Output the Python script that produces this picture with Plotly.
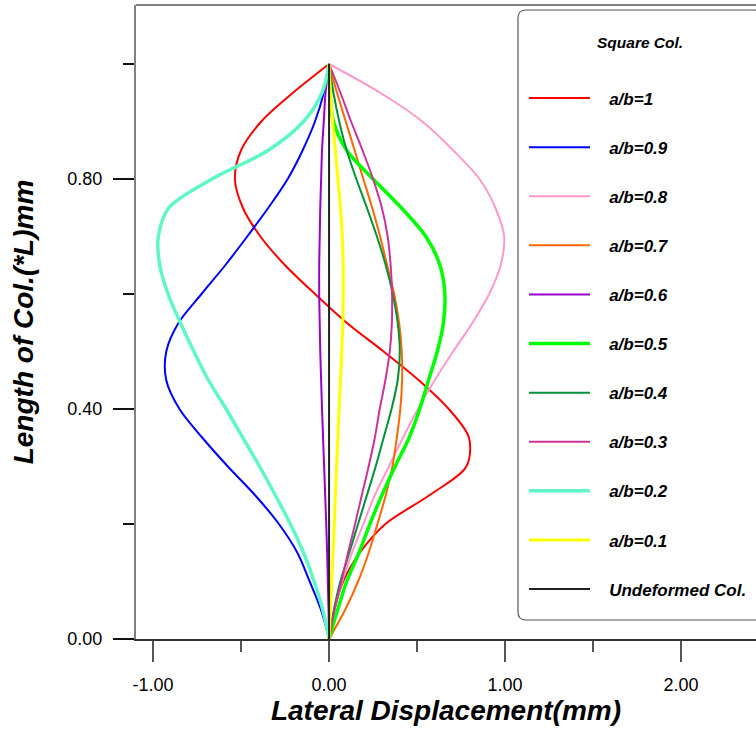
import plotly.graph_objects as go

# Height positions along the column (fraction of L)
y_levels = [0.00, 0.05, 0.10, 0.15, 0.20, 0.25, 0.30, 0.35, 0.40, 0.45, 0.50,
            0.55, 0.60, 0.65, 0.70, 0.75, 0.80, 0.85, 0.90, 0.95, 1.00]

# Lateral displacement (mm) of each series at those heights
ab_1 = [0, 0.03, 0.08, 0.175, 0.32, 0.57, 0.78, 0.795, 0.68, 0.51, 0.31,
        0.10, -0.08, -0.25, -0.39, -0.49, -0.535, -0.50, -0.385, -0.205, 0]
ab_09 = [0, -0.045, -0.11, -0.18, -0.285, -0.42, -0.575, -0.72, -0.85, -0.925, -0.925,
         -0.855, -0.725, -0.59, -0.465, -0.345, -0.235, -0.15, -0.08, -0.03, 0]
ab_08 = [0, 0.03, 0.075, 0.13, 0.195, 0.26, 0.34, 0.42, 0.505, 0.60, 0.705,
         0.815, 0.91, 0.975, 0.995, 0.945, 0.855, 0.705, 0.53, 0.29, 0]
ab_07 = [0, 0.09, 0.165, 0.225, 0.275, 0.322, 0.36, 0.385, 0.405, 0.415, 0.413,
         0.398, 0.37, 0.33, 0.29, 0.245, 0.195, 0.145, 0.095, 0.045, 0]
ab_06 = [0, -0.003, -0.007, -0.011, -0.016, -0.022, -0.028, -0.034, -0.04, -0.045, -0.05,
         -0.053, -0.056, -0.056, -0.053, -0.05, -0.045, -0.04, -0.03, -0.02, 0]
ab_05 = [0, 0.048, 0.10, 0.17, 0.232, 0.30, 0.375, 0.455, 0.515, 0.565, 0.615,
         0.65, 0.658, 0.63, 0.55, 0.41, 0.25, 0.10, 0.025, 0.005, 0]
ab_04 = [0, 0.027, 0.064, 0.115, 0.165, 0.215, 0.265, 0.31, 0.355, 0.39, 0.402,
         0.39, 0.362, 0.322, 0.272, 0.215, 0.155, 0.10, 0.058, 0.025, 0]
ab_03 = [0, 0.03, 0.07, 0.108, 0.148, 0.186, 0.225, 0.26, 0.288, 0.32, 0.345,
         0.357, 0.358, 0.35, 0.333, 0.30, 0.25, 0.19, 0.125, 0.065, 0]
ab_02 = [0, -0.035, -0.085, -0.145, -0.22, -0.305, -0.395, -0.49, -0.585, -0.685, -0.768,
         -0.845, -0.915, -0.962, -0.97, -0.91, -0.665, -0.345, -0.145, -0.04, 0]
ab_01 = [0, 0.007, 0.015, 0.022, 0.03, 0.036, 0.043, 0.05, 0.057, 0.065, 0.072,
         0.078, 0.08, 0.08, 0.075, 0.065, 0.05, 0.036, 0.02, 0.008, 0]
undeformed_x = [0, 0]
undeformed_y = [0, 1]

names = ["a/b=1", "a/b=0.9", "a/b=0.8", "a/b=0.7", "a/b=0.6",
         "a/b=0.5", "a/b=0.4", "a/b=0.3", "a/b=0.2", "a/b=0.1"]
series = [ab_1, ab_09, ab_08, ab_07, ab_06, ab_05, ab_04, ab_03, ab_02, ab_01]
colors = ["#FF0000", "#0000FF", "#FF99CC", "#FF6600", "#9900CC",
          "#00FF00", "#009238", "#CC3399", "#5FF7C8", "#FFFF00"]
widths = [2, 2, 2, 2, 2, 3.5, 2, 2, 3.5, 3]

x_ticks = [-1, 0, 1, 2]
x_tick_labels = ["-1.00", "0.00", "1.00", "2.00"]
y_ticks = [0, 0.4, 0.8]
y_tick_labels = ["0.00", "0.40", "0.80"]

FONT = "Liberation Sans, Arial, sans-serif"
PAD = "\u00a0\u00a0\u00a0"  # gap between legend sample and label

fig = go.Figure()
for i, (nm, xs) in enumerate(zip(names, series)):
    fig.add_trace(go.Scatter(
        x=xs, y=y_levels, mode="lines", name=PAD + nm, legendgroup=nm,
        line=dict(color=colors[i], width=widths[i], shape="spline", smoothing=0.9),
    ))
fig.add_trace(go.Scatter(
    x=undeformed_x, y=undeformed_y, mode="lines", name=PAD + "Undeformed Col.",
    legendgroup="undeformed", line=dict(color="#222222", width=2),
))

# plot area: 136..756 px wide, 5..639 px tall
x_range = [-1.097, 2.426]
y_range = [0, 1.1026]

fig.update_layout(
    width=756, height=729,
    margin=dict(l=136, r=0, t=5, b=90),
    paper_bgcolor="white", plot_bgcolor="white",
    font=dict(family=FONT, color="black"),
    showlegend=True,
    legend=dict(
        x=(524 - 136) / 620, xanchor="left",
        y=(639 - 80.5) / 634, yanchor="top",
        bgcolor="rgba(0,0,0,0)", borderwidth=0,
        itemwidth=61, tracegroupgap=24, traceorder="grouped",
        font=dict(family=FONT, size=17, weight="bold", style="italic", color="black"),
    ),
    xaxis=dict(
        range=x_range, tickvals=x_ticks, ticktext=x_tick_labels,
        ticks="outside", ticklen=21, tickwidth=1.5, tickcolor="#555555",
        ticklabelstandoff=8, automargin=False,
        tickfont=dict(family=FONT, size=18, color="black"),
        minor=dict(dtick=0.5, tick0=0, ticks="outside", ticklen=11, tickwidth=1.5, tickcolor="#555555"),
        showline=True, linecolor="#333333", linewidth=1.5,
        showgrid=False, zeroline=False,
        title=dict(text="Lateral Displacement(mm)", standoff=5,
                   font=dict(family=FONT, size=28, weight="bold", style="italic", color="black")),
    ),
    yaxis=dict(
        range=y_range, tickvals=y_ticks, ticktext=y_tick_labels,
        ticks="outside", ticklen=21, tickwidth=1.5, tickcolor="#111111",
        ticklabelstandoff=7, automargin=False,
        tickfont=dict(family=FONT, size=18, color="black"),
        minor=dict(dtick=0.2, tick0=0, ticks="outside", ticklen=11, tickwidth=1.5, tickcolor="#111111"),
        showline=True, linecolor="#808080", linewidth=2,
        showgrid=False, zeroline=False,
        title=dict(text="Length of Col.(*L)mm", standoff=26,
                   font=dict(family=FONT, size=28, weight="bold", style="italic", color="black")),
    ),
)

# top frame line
fig.add_shape(type="line", xref="paper", yref="paper", x0=0, x1=1, y0=1, y1=1,
              line=dict(color="#808080", width=2))

# rounded legend box
px2x = lambda p: (p - 136) / 620
px2y = lambda p: (639 - p) / 634
L, R, T, B, r = 518, 762, 10, 620, 8
rx, ry = r / 620, r / 634
path = (f"M {px2x(L)+rx},{px2y(T)} L {px2x(R)-rx},{px2y(T)} "
        f"Q {px2x(R)},{px2y(T)} {px2x(R)},{px2y(T)-ry} "
        f"L {px2x(R)},{px2y(B)+ry} Q {px2x(R)},{px2y(B)} {px2x(R)-rx},{px2y(B)} "
        f"L {px2x(L)+rx},{px2y(B)} Q {px2x(L)},{px2y(B)} {px2x(L)},{px2y(B)+ry} "
        f"L {px2x(L)},{px2y(T)-ry} Q {px2x(L)},{px2y(T)} {px2x(L)+rx},{px2y(T)} Z")
fig.add_shape(type="path", xref="paper", yref="paper", path=path,
              line=dict(color="#555555", width=1.2), fillcolor="white", layer="below")

fig.add_annotation(text="Square Col.", xref="paper", yref="paper",
                   x=px2x(640), y=px2y(43), xanchor="center", yanchor="middle",
                   showarrow=False,
                   font=dict(family=FONT, size=15.5, weight="bold", style="italic", color="black"))

fig.write_html("out.html", config={"displayModeBar": False},
               post_script="document.body.style.margin='0px';")
